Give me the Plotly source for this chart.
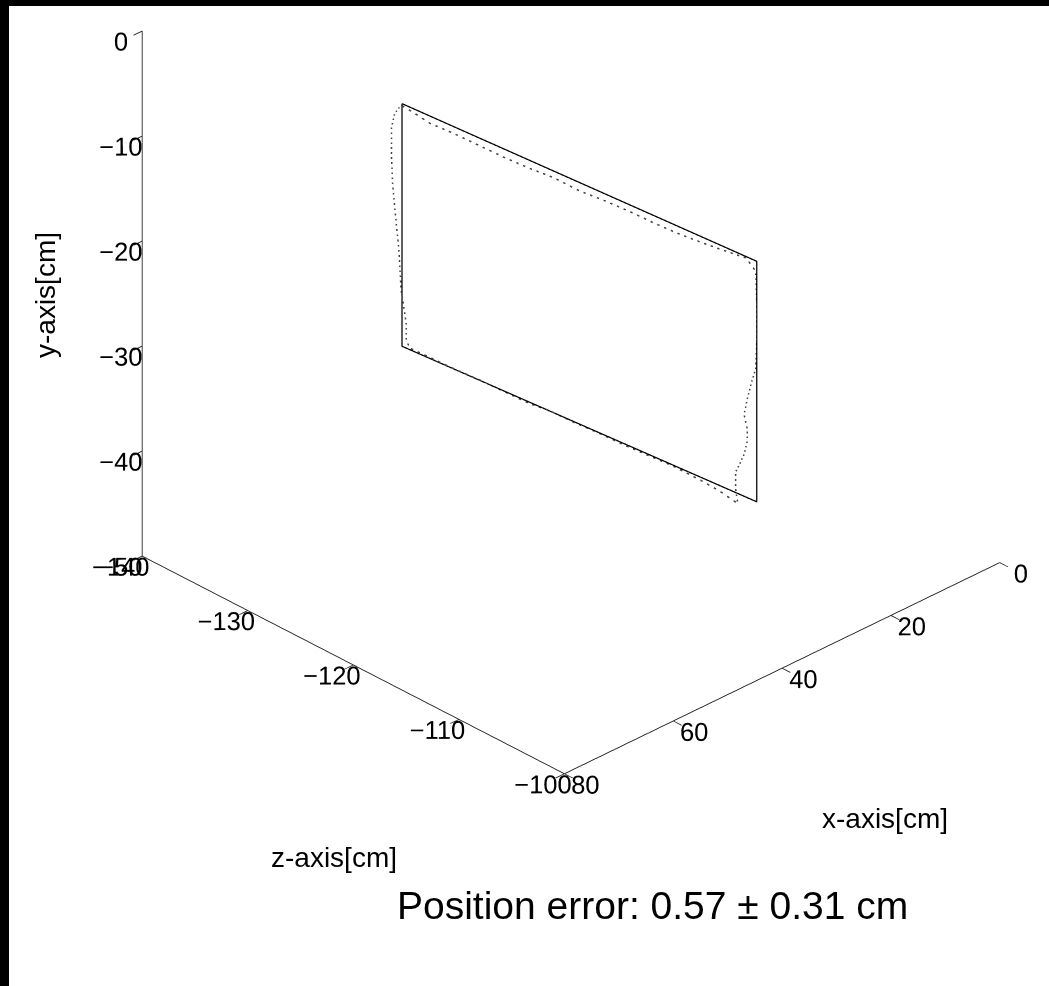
import plotly.graph_objects as go

# Reference (commanded) rectangle, cm
ref_x = [40.0, 40.0, 40.0, 40.0, 40.0]
ref_y = [-14.9, -12.5, -35.4, -38.0, -14.9]
ref_z = [-136.0, -102.4, -102.4, -136.0, -136.0]

meas_z = [-136.0, -134.8, -133.4, -131.1, -128.7, -126.3, -123.9, -121.6, -119.2, -116.8,
          -114.5, -112.1, -109.7, -107.5, -105.0, -103.4,
          -102.5, -102.4, -102.4, -102.5, -102.9, -103.3, -103.6, -103.3, -103.3, -103.6,
          -104.0, -104.4, -104.4, -104.2,
          -105.9, -107.8, -110.2, -112.6, -114.9, -117.3, -119.7, -122.1, -123.9, -126.3,
          -128.7, -131.1, -133.4, -135.3,
          -135.6, -135.6, -135.8, -136.1, -136.2, -136.3, -136.5, -136.7, -136.9, -137.0,
          -137.0, -136.7, -136.1]
meas_y = [-15.1, -15.2, -15.4, -15.2, -15.1, -15.0, -14.8, -14.5, -14.5, -14.2,
          -14.0, -13.9, -13.7, -13.4, -13.0, -12.7,
          -13.5, -16.4, -20.2, -22.8, -24.3, -26.1, -27.7, -28.9, -30.1, -31.5,
          -32.6, -33.6, -35.2, -36.5,
          -36.2, -36.1, -36.1, -36.3, -36.5, -36.6, -36.8, -36.9, -37.2, -37.3,
          -37.4, -37.6, -37.7, -37.8,
          -37.1, -35.7, -34.4, -32.6, -30.8, -28.9, -27.1, -25.1, -22.9, -20.5,
          -17.7, -16.2, -15.1]
meas_x = [40.0] * len(meas_z)

x_ticks = [0, 20, 40, 60, 80]
y_ticks = [-50, -40, -30, -20, -10, 0]
z_ticks = [-140, -130, -120, -110, -100]

title_text = "Position error: 0.57 ± 0.31 cm"
FONT = "Liberation Sans, Arial, Helvetica"
W, H = 1049, 986

fig = go.Figure()
# plotly x = data x, plotly y = data z, plotly z = data y (vertical)
fig.add_trace(go.Scatter3d(x=meas_x, y=meas_z, z=meas_y, mode="lines",
                           line=dict(color="#444444", width=3, dash="dot"),
                           showlegend=False, hoverinfo="skip"))
fig.add_trace(go.Scatter3d(x=ref_x, y=ref_z, z=ref_y, mode="lines",
                           line=dict(color="black", width=2.5),
                           showlegend=False, hoverinfo="skip"))

ax_common = dict(showbackground=False, showgrid=False, zeroline=False,
                 showline=True, linecolor="#222222", linewidth=2,
                 ticks="outside", tickcolor="#222222", tickwidth=2, ticklen=12,
                 tickangle=0,
                 showspikes=False, title=dict(text=""),
                 tickfont=dict(family=FONT, size=17.5, color="black"))

c = (0.2055, 0.0765, -0.3452)
d = 1.66
v = (0.6029, 0.6215, 0.5)
k = 1.23


def ann(text, px, py, size, angle=0):
    return dict(text=text, x=px / W, y=1 - py / H, xref="paper", yref="paper",
                showarrow=False, textangle=angle, xanchor="center", yanchor="middle",
                font=dict(family=FONT, size=size, color="black"))


fig.update_layout(
    width=W, height=H,
    margin=dict(l=0, r=0, t=0, b=0),
    paper_bgcolor="black",
    shapes=[dict(type="rect", xref="paper", yref="paper", x0=9 / W, x1=1.0,
                 y0=0.0, y1=1 - 6 / H, fillcolor="white", line=dict(width=0),
                 layer="below")],
    scene=dict(
        domain=dict(x=[0, 1], y=[0, 1]),
        bgcolor="rgba(0,0,0,0)",
        xaxis=dict(range=[0, 80], tickvals=x_ticks, **ax_common),
        yaxis=dict(range=[-140, -100], tickvals=z_ticks, **ax_common),
        zaxis=dict(range=[-50, 0], tickvals=y_ticks, **ax_common),
        aspectmode="manual",
        aspectratio=dict(x=k, y=k, z=k),
        camera=dict(projection=dict(type="orthographic"),
                    eye=dict(x=c[0] + d * v[0], y=c[1] + d * v[1], z=c[2] + d * v[2]),
                    up=dict(x=0, y=0, z=1),
                    center=dict(x=c[0], y=c[1], z=c[2])),
    ),
    annotations=[
        ann("y-axis[cm]", 45, 295, 28, -90),
        ann("z-axis[cm]", 334, 857, 28),
        ann("x-axis[cm]", 885, 818, 28),
        ann(title_text, 652, 905, 39),
    ],
)

fig.write_html("out.html", config={"displayModeBar": False},
               post_script="document.body.style.margin='0';document.body.style.overflow='hidden';")
